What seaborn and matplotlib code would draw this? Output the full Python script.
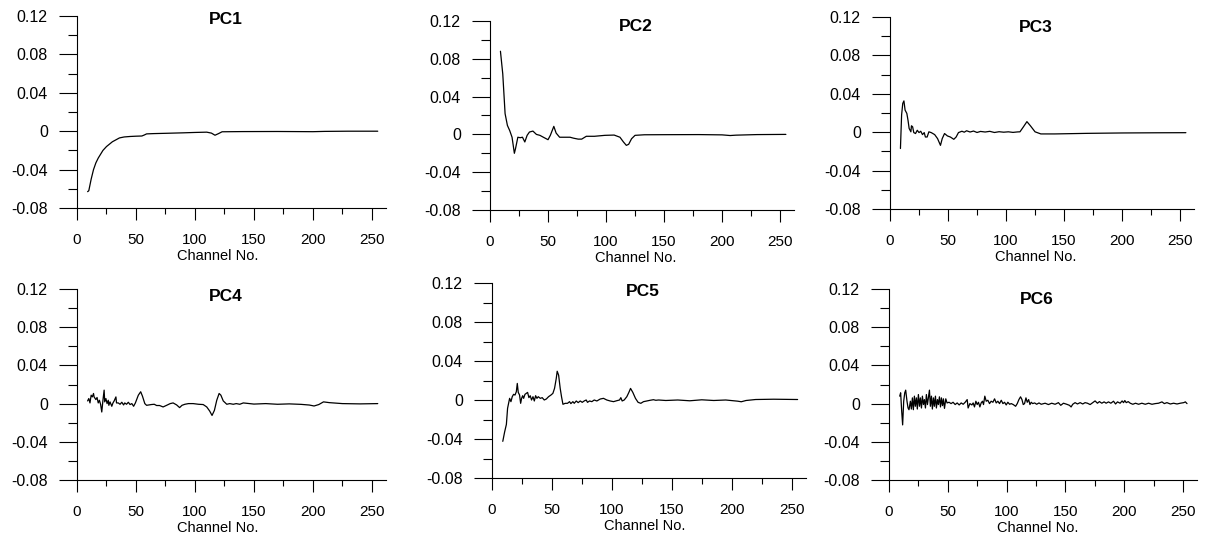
import matplotlib
matplotlib.use("Agg")
import matplotlib.pyplot as plt
import seaborn as sns
from matplotlib.ticker import MultipleLocator

# loadings of the first six principal components
ch1 = [9, 10, 12, 14, 16, 18, 20, 22, 25, 28, 30, 33, 36, 40, 45, 50, 55, 57, 59, 65,
       75, 90, 100, 110, 114, 117, 120, 123, 140, 170, 200, 210, 230, 255]
pc1 = [-0.063, -0.062, -0.050, -0.040, -0.033, -0.028, -0.024, -0.020, -0.016, -0.013,
       -0.011, -0.009, -0.007, -0.006, -0.0055, -0.0052, -0.005, -0.004, -0.0028, -0.0025,
       -0.0022, -0.0017, -0.0013, -0.001, -0.002, -0.0042, -0.0025, -0.0006, -0.0004, -0.0003,
       -0.0005, -0.0002, 0.0, 0.0]

ch2 = [9, 11, 12, 13, 15, 17, 19, 21, 22, 24, 26, 28, 30, 32, 34, 37, 40, 43, 46, 50,
       52, 55, 57, 60, 64, 69, 72, 76, 79, 83, 90, 99, 107, 112, 115, 117.5, 119.5, 122, 125, 133,
       150, 180, 200, 207, 212, 230, 255]
pc2 = [0.088, 0.064, 0.043, 0.022, 0.0095, 0.004, -0.003, -0.020, -0.015, -0.003,
       -0.0035, -0.003, -0.008, -0.001, 0.0025, 0.0035, 0.0, -0.001, -0.003, -0.0056,
       -0.001, 0.0085, 0.0014, -0.003, -0.003, -0.003, -0.004, -0.005, -0.005, -0.002,
       -0.002, -0.001, -0.0007, -0.003, -0.008, -0.0116, -0.0105, -0.0046, -0.001, -0.0004,
       -0.0003, -0.0002, -0.0005, -0.0012, -0.0008, -0.0002, 0.0]

ch3 = [9, 10, 11, 12, 13, 14.5, 15.5, 16.5, 18, 18.5, 19.5, 20.5, 22, 23.5, 25, 26.5, 28, 29.5, 30.5, 32,
       33.5, 35.5, 38.5, 41, 43.5, 45, 47, 49.5, 52, 55, 57, 59, 62, 64, 66, 69, 72, 75, 78, 82,
       86, 90, 94, 98, 102, 106, 110, 112, 115, 118, 121, 125, 130, 142, 170, 200, 230, 255]
pc3 = [-0.017, 0.018, 0.030, 0.0326, 0.023, 0.0196, 0.0126, 0.0039, 0.0004, 0.0067,
       0.0056, -0.0004, -0.0014, 0.002, -0.0004, 0.001, -0.0025, -0.0004, -0.005, -0.005,
       0.0004, -0.0004, -0.0025, -0.0067, -0.0137, -0.0067, -0.0014, -0.0039, -0.005, -0.0074,
       -0.005, -0.0004, 0.001, 0.0, 0.0015, 0.0002, 0.0012, -0.0003, 0.0008, 0.0002,
       0.0009, -0.0003, 0.0005, 0.0, 0.0004, -0.0002, 0.0003, 0.0004, 0.0056, 0.011,
       0.0067, 0.0004, -0.0018, -0.0018, -0.0012, -0.0008, -0.0006, -0.0005]

ch4 = [9, 10, 11, 12, 13, 14, 14.5, 16, 17, 18, 19, 20, 21, 22, 23, 23.5, 24.5, 25.5, 26.5, 27,
       28, 29.5, 30.5, 31.5, 33, 33.5, 35, 36.5, 38, 39.5, 40.5, 42, 43.5, 45, 46.5, 48, 49.5, 52, 54, 55.5,
       57.5, 59, 61, 63, 65.5, 67.5, 70, 73, 76, 79, 81.5, 84.5, 87, 89, 91.5, 94.5, 98.5, 103, 107, 110,
       112.5, 114.5, 116.5, 118.5, 120.5, 122, 124, 127, 129.5, 132.5, 135, 138, 141,
       150, 160, 170, 180, 190, 197, 201, 205, 209, 214, 225, 240, 255]
pc4 = [0.0028, 0.0053, 0.0007, 0.0088, 0.007, 0.0106, 0.007, 0.0042, 0.0064, 0.0007,
       0.0035, -0.0007, -0.0088, 0.0035, 0.0141, 0.0018, 0.0053, 0.0, 0.0035, -0.0018,
       0.0018, -0.0028, 0.0007, 0.0028, 0.007, 0.0007, 0.0007, -0.0007, 0.0014, -0.0014,
       0.0007, -0.0007, 0.0014, -0.001, 0.0, -0.0028, 0.0007, 0.0088, 0.0124, 0.0078,
       0.0, -0.0018, -0.0014, -0.001, -0.0007, -0.002, -0.002, -0.0035, -0.0018, 0.0,
       0.0007, -0.0014, -0.0042, -0.0018, -0.0007, 0.0, 0.0, -0.0007, -0.001, -0.0035,
       -0.0078, -0.0124, -0.0071, 0.0035, 0.0106, 0.0088, 0.0028, -0.0007, 0.0, -0.0007,
       0.0, -0.0007, 0.0007,
       -0.0005, 0.0, -0.0007, -0.0003, -0.0008, -0.0015, -0.0025, -0.001, 0.0018, 0.001, 0.0, -0.0003, 0.0]

ch5 = [9, 10.5, 12, 13, 14.7, 15.8, 16.9, 18, 19.2, 20.3, 21.1, 21.9, 23, 23.9, 24.7, 25.6, 26.4, 27.5, 28.6, 29.7,
       30.8, 31.9, 33, 34.2, 35.3, 36.4, 37.5, 38.6, 40.3, 41.9, 43.6, 45.3, 47.2, 49.2, 50.8, 52.2, 53.6, 54.4, 55.6, 56.9,
       58, 59.2, 61.1, 63, 64.7, 65.8, 67.5, 68.6, 70.3, 71.9, 73.6, 75.3, 76.9, 78.6, 79.7, 81.4, 83.3, 85.3, 87.5, 90.3,
       93, 95.8, 98.6, 101.4, 104.2, 106.4, 107.5, 108.6, 110.3, 112.5, 114.2, 115.6, 117.5, 119.7, 121.9, 124.2, 126.4,
       129.2, 131.9, 134.7, 136.7, 138.9,
       145, 155, 165, 175, 185, 195, 205, 208, 212, 220, 235, 255]
pc5 = [-0.0424, -0.033, -0.025, -0.0085, 0.0017, -0.0017, 0.0034, 0.0058, 0.0051, 0.0085,
       0.017, 0.0078, 0.0051, -0.0034, 0.0017, 0.0044, 0.0017, 0.0058, 0.0068, 0.0078,
       0.0024, 0.0044, 0.0, 0.0034, -0.001, 0.0044, 0.0017, 0.0034, 0.0017, 0.0024,
       0.0, 0.001, 0.0034, 0.0051, 0.0068, 0.012, 0.022, 0.0295, 0.0254, 0.012,
       0.0034, -0.0044, -0.0034, -0.0034, -0.0017, -0.0037, -0.0017, -0.0034, -0.001, -0.0027,
       -0.001, -0.0024, -0.001, 0.0, -0.0024, -0.001, -0.0017, 0.0, -0.001, 0.001,
       0.0017, 0.0, -0.001, -0.0017, -0.0007, 0.0, 0.0024, -0.001, 0.0, 0.0034,
       0.0078, 0.0119, 0.0078, 0.0017, -0.0024, -0.0034, -0.0017,
       -0.001, -0.0003, 0.0003, -0.0003, 0.0,
       -0.0005, 0.0, -0.0008, 0.0002, -0.0005, 0.0, -0.0012, -0.0018, -0.0005, 0.0005, 0.0008, 0.0005]

ch6 = [9.1, 9.9, 10.8, 11.6, 12.5, 13.4, 14.2, 15.3, 16.2, 17, 18.2, 19, 19.9, 20.7, 21.6, 22.4, 23.3, 24.1, 25, 25.9,
       26.7, 27.6, 28.4, 29.3, 30.1, 31, 31.8, 32.7, 33.5, 34.4, 35.2, 36.1, 36.9, 37.8, 38.6, 39.5, 40.3, 41.2, 42, 42.9,
       43.8, 44.6, 45.5, 46.3, 47.2, 48.3, 49.4, 51.1, 52.8, 54.5, 56.3, 58, 59.7, 61.4, 63.1, 64.8, 66.5, 67.3, 68.8, 70.5,
       71.6, 72.7, 73.9, 75, 76.1, 77.3, 78.4, 79.5, 80.4, 81.5, 82.7, 84.1, 85.5, 86.9, 88.4, 89.8, 91.2, 92.6, 94, 95.5,
       96.9, 98.3, 99.7, 101.1, 102.6, 104, 105.7, 107.7, 109.1, 110.5, 111.9, 113.1, 114.2, 115.3, 116.5, 117.6, 118.8,
       119.9, 121, 122.2, 123.9, 125.6, 127.6, 129.5, 132.8, 135.6, 138.4, 141.3, 144.1, 146.1, 148.4, 151.2, 153.5,
       154.9, 156.3, 158.3, 160.3, 162.6, 164.8, 166.8, 168.8, 171.1, 173.3, 175.3, 177.3, 179, 181, 183, 184.7, 186.7,
       188.7, 191, 192.7, 194.4, 196.6, 198.3, 199.5, 200.6, 201.8, 203.5, 205.2, 207.4, 209.7, 212.3, 215.1, 218, 220.8,
       223.7, 226.5, 229.3, 232.2, 234.2, 236.4, 239.3, 242.1, 245, 247.8, 250.7, 252.1, 253.5]
pc6 = [0.0078, 0.0113, -0.0081, -0.0223, 0.0025, 0.0113, 0.0141, 0.0025, -0.0046, -0.0064,
       0.0025, -0.0057, 0.006, -0.0064, 0.0078, -0.0028, 0.006, -0.0057, 0.0095, -0.0028,
       0.006, -0.0046, 0.0078, -0.001, 0.0042, -0.0046, 0.0095, -0.001, 0.006, 0.0141,
       -0.0028, 0.0078, -0.0057, 0.006, -0.0028, 0.0078, -0.0046, 0.0042, -0.001, 0.0071,
       -0.0035, 0.006, -0.0021, 0.005, -0.005, 0.005, 0.0007, 0.0014, 0.0, 0.0014,
       -0.001, 0.0007, -0.0014, 0.0007, -0.0007, 0.0014, 0.0042, -0.0046, 0.0, -0.0014,
       0.0007, -0.0035, 0.0025, -0.001, 0.0014, -0.0035, 0.0007, 0.0025, -0.001, 0.0078,
       0.0025, 0.0035, 0.0, 0.0025, 0.0014, 0.005, 0.0007, 0.0025, 0.0, 0.0035,
       0.0, 0.0014, -0.0014, 0.0014, -0.0007, 0.0, -0.001, -0.0028, 0.0, 0.0042,
       0.0071, 0.0042, -0.001, 0.0, 0.006, 0.0014, 0.0042,
       -0.001, 0.0014, 0.0, 0.0007, -0.0007, 0.0007, -0.0007, 0.0004, -0.001, 0.0004,
       -0.0007, 0.001, -0.0018, 0.0004, -0.0007, -0.0018,
       -0.0035, -0.0007, 0.001, -0.0004, 0.001, -0.0004, 0.001, 0.0004, -0.001, 0.001,
       0.0028, 0.0004, 0.0021, 0.0004, 0.0018, 0.0004, 0.0018,
       0.0004, 0.0025, -0.0004, 0.0018, 0.0004, 0.0028, 0.001, 0.0032, 0.001, 0.0021,
       0.0004, -0.0007, 0.0004, -0.0007, 0.0004, -0.0007, 0.0004,
       -0.0007, 0.0, 0.0004, 0.0018, 0.0, 0.001, -0.0004, 0.0004, -0.0004, 0.0004,
       0.001, 0.0018, 0.0]

titles = ["PC1", "PC2", "PC3", "PC4", "PC5", "PC6"]
yticks = [-0.08, -0.04, 0, 0.04, 0.08, 0.12]
ytickLabels = ["-0.08", "-0.04", "0", "0.04", "0.08", "0.12"]
xticks = [0, 50, 100, 150, 200, 250]
xlabel = "Channel No."

# panel boxes in pixels (left, top, width, height), figure is 1205 x 539
W, H = 1205, 539
boxes = [
    (77, 16, 309, 192),
    (490, 21, 304, 189),
    (890, 17, 304, 192),
    (77, 289, 309, 191),
    (492, 283, 314, 195),
    (889, 289, 308, 191),
]
# how far the title centre sits below the top of each panel, in pixels
titleDrops = [3.5, 5.7, 11, 7.7, 8.7, 10]
# horizontal centre of the "Channel No." label, as a fraction of the panel width
xlabelCentres = [0.456, 0.48, 0.48, 0.456, 0.487, 0.484]


def drawPanel(ax, channels, values, title, titleDrop, heightPx, xlabelCentre):
    """Draw one loading curve with the old-style outward ticks."""
    sns.lineplot(x=channels, y=values, ax=ax, color="black", linewidth=0.9,
                 estimator=None, sort=False)
    ax.set_xlim(0, 262)
    ax.set_ylim(-0.08, 0.12)
    ax.set_xticks(xticks)
    ax.set_yticks(yticks, labels=ytickLabels)
    ax.xaxis.set_minor_locator(MultipleLocator(25))
    ax.yaxis.set_minor_locator(MultipleLocator(0.02))
    ax.tick_params(axis="both", which="both", color="black", labelcolor="black", width=0.8)
    ax.tick_params(axis="x", which="major", length=8.5, pad=9.5, labelsize=11)
    ax.tick_params(axis="x", which="minor", length=4)
    ax.tick_params(axis="y", which="major", length=13, pad=8, labelsize=11.5)
    ax.tick_params(axis="y", which="minor", length=6.5)
    ax.set_xlabel(xlabel, fontsize=10.5, color="black")
    ax.xaxis.set_label_coords(xlabelCentre, -0.215 * 192 / heightPx)
    ax.xaxis.label.set_verticalalignment("top")
    ax.set_ylabel("")
    ax.text(0.48, 1 - titleDrop / heightPx, title, transform=ax.transAxes,
            ha="center", va="center", fontsize=12.5, fontweight="bold", color="black")
    sns.despine(ax=ax)
    for side in ["left", "bottom"]:
        ax.spines[side].set_linewidth(0.8)
        ax.spines[side].set_color("black")


sns.set_theme(style="ticks")
plt.rcParams["font.family"] = ["Liberation Sans", "DejaVu Sans"]

fig = plt.figure(figsize=(W / 100, H / 100), dpi=100)
series = [(ch1, pc1), (ch2, pc2), (ch3, pc3), (ch4, pc4), (ch5, pc5), (ch6, pc6)]
for (channels, values), title, box, drop, xc in zip(series, titles, boxes, titleDrops, xlabelCentres):
    left, top, width, height = box
    ax = fig.add_axes([left / W, 1 - (top + height) / H, width / W, height / H])
    drawPanel(ax, channels, values, title, drop, height, xc)

fig.savefig("out.png", dpi=100)
plt.close(fig)
